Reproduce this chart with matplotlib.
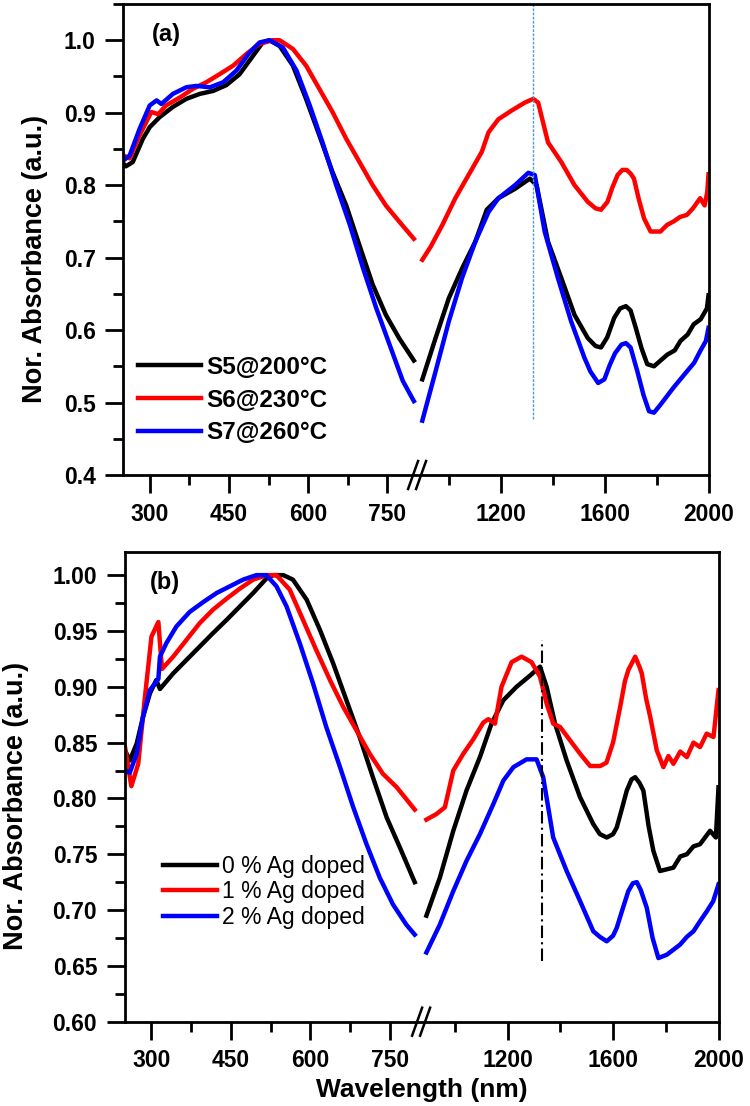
import matplotlib
matplotlib.use('Agg')
import matplotlib.pyplot as plt
import numpy as np

plt.rcParams['font.family'] = ['Liberation Sans', 'DejaVu Sans']

# ---- 데이터 ----
# (a) 열처리 온도별 시료
s5_uv_wl = [250, 255, 268, 287, 300, 319, 344, 369, 395, 420, 445, 470, 495, 514, 527,
            546, 571, 596, 621, 646, 672, 697, 722, 747, 772, 800]
s5_uv_abs = [0.830, 0.826, 0.832, 0.864, 0.880, 0.894, 0.908, 0.919, 0.926, 0.930, 0.938,
             0.953, 0.978, 0.997, 1.000, 0.992, 0.965, 0.919, 0.869, 0.818, 0.772, 0.717,
             0.663, 0.621, 0.589, 0.558]
s6_uv_wl = [250, 262, 281, 303, 316, 331, 357, 382, 407, 432, 458, 483, 508, 533, 546,
            571, 596, 621, 646, 672, 697, 722, 747, 772, 800]
s6_uv_abs = [0.841, 0.837, 0.869, 0.901, 0.898, 0.910, 0.921, 0.933, 0.942, 0.953, 0.965,
             0.981, 0.995, 1.000, 1.000, 0.988, 0.965, 0.933, 0.901, 0.864, 0.832, 0.800,
             0.772, 0.750, 0.726]
s7_uv_wl = [250, 262, 281, 300, 313, 322, 344, 369, 388, 414, 439, 464, 489, 508, 527,
            552, 578, 603, 628, 653, 679, 704, 729, 754, 779, 800]
s7_uv_abs = [0.834, 0.841, 0.878, 0.910, 0.917, 0.912, 0.926, 0.935, 0.937, 0.935, 0.942,
             0.958, 0.983, 0.997, 1.000, 0.990, 0.958, 0.910, 0.857, 0.800, 0.745, 0.685,
             0.630, 0.580, 0.530, 0.502]

s5_ir_wl = [898, 949, 1000, 1051, 1102, 1146, 1191, 1255, 1312, 1338, 1382, 1433, 1484,
            1535, 1565, 1586, 1610, 1637, 1660, 1682, 1700, 1720, 1742, 1764, 1790, 1841,
            1870, 1892, 1920, 1943, 1970, 1994, 2000]
s5_ir_abs = [0.532, 0.589, 0.644, 0.685, 0.722, 0.766, 0.782, 0.795, 0.809, 0.800, 0.722,
             0.672, 0.621, 0.589, 0.578, 0.576, 0.590, 0.617, 0.630, 0.633, 0.627, 0.603,
             0.575, 0.553, 0.550, 0.566, 0.572, 0.585, 0.594, 0.608, 0.615, 0.630, 0.648]
s6_ir_wl = [898, 930, 975, 1025, 1076, 1127, 1153, 1191, 1242, 1293, 1325, 1344, 1382,
            1433, 1484, 1535, 1565, 1586, 1611, 1630, 1650, 1668, 1685, 1700, 1713, 1732,
            1752, 1777, 1815, 1840, 1866, 1890, 1917, 1940, 1968, 1985, 1995, 2000]
s6_ir_abs = [0.697, 0.715, 0.745, 0.782, 0.814, 0.846, 0.873, 0.891, 0.903, 0.914, 0.919,
             0.914, 0.859, 0.832, 0.800, 0.777, 0.768, 0.766, 0.777, 0.797, 0.814, 0.821,
             0.821, 0.816, 0.809, 0.780, 0.754, 0.736, 0.736, 0.745, 0.750, 0.756, 0.759,
             0.768, 0.782, 0.772, 0.790, 0.815]
s7_ir_wl = [898, 949, 1000, 1051, 1102, 1153, 1191, 1255, 1306, 1331, 1369, 1420, 1471,
            1522, 1545, 1575, 1599, 1620, 1640, 1665, 1682, 1700, 1726, 1750, 1771, 1790,
            1815, 1866, 1917, 1945, 1968, 1990, 2000]
s7_ir_abs = [0.475, 0.543, 0.612, 0.672, 0.722, 0.763, 0.782, 0.800, 0.817, 0.814, 0.736,
             0.672, 0.612, 0.562, 0.543, 0.527, 0.532, 0.552, 0.568, 0.580, 0.582, 0.576,
             0.543, 0.510, 0.488, 0.486, 0.497, 0.521, 0.543, 0.555, 0.571, 0.585, 0.603]

# (b) Ag 도핑 농도별
ag0_uv_wl = [250, 259, 272, 284, 297, 309, 316, 341, 366, 391, 416, 442, 467, 492, 517,
             530, 549, 567, 593, 618, 643, 668, 693, 718, 744, 769, 797]
ag0_uv_abs = [0.843, 0.834, 0.849, 0.873, 0.894, 0.906, 0.898, 0.912, 0.924, 0.936, 0.948,
              0.960, 0.972, 0.984, 0.997, 1.000, 1.000, 0.996, 0.978, 0.951, 0.921, 0.888,
              0.855, 0.819, 0.783, 0.756, 0.725]
ag1_uv_wl = [250, 262, 275, 287, 300, 313, 317, 320, 341, 366, 391, 416, 442, 467, 492,
             517, 536, 561, 586, 611, 637, 662, 687, 712, 737, 763, 797]
ag1_uv_abs = [0.846, 0.811, 0.831, 0.888, 0.945, 0.958, 0.933, 0.916, 0.927, 0.942, 0.957,
              0.969, 0.979, 0.988, 0.996, 1.000, 1.000, 0.987, 0.960, 0.933, 0.906, 0.882,
              0.861, 0.840, 0.822, 0.810, 0.790]
ag2_uv_wl = [250, 259, 272, 284, 297, 313, 316, 328, 347, 372, 398, 423, 448, 473, 498,
             517, 536, 555, 580, 605, 630, 656, 681, 706, 731, 756, 781, 797]
ag2_uv_abs = [0.825, 0.823, 0.840, 0.873, 0.897, 0.907, 0.927, 0.939, 0.954, 0.967, 0.976,
              0.984, 0.990, 0.996, 1.000, 1.000, 0.990, 0.972, 0.939, 0.903, 0.864, 0.828,
              0.792, 0.759, 0.729, 0.705, 0.687, 0.678]

ag0_ir_wl = [892, 943, 994, 1044, 1095, 1139, 1184, 1234, 1285, 1323, 1348, 1380, 1424,
             1475, 1525, 1550, 1576, 1600, 1614, 1635, 1652, 1670, 1684, 1700, 1715, 1735,
             1753, 1778, 1829, 1855, 1880, 1905, 1930, 1968, 1990, 2000]
ag0_ir_abs = [0.695, 0.729, 0.771, 0.807, 0.837, 0.867, 0.888, 0.900, 0.910, 0.918, 0.900,
              0.867, 0.834, 0.801, 0.777, 0.768, 0.765, 0.768, 0.774, 0.792, 0.807, 0.817,
              0.819, 0.814, 0.807, 0.775, 0.753, 0.735, 0.738, 0.748, 0.750, 0.757, 0.759,
              0.771, 0.765, 0.810]
ag1_ir_wl = [892, 930, 962, 994, 1032, 1070, 1108, 1127, 1152, 1177, 1215, 1253, 1291,
             1323, 1348, 1373, 1399, 1437, 1475, 1513, 1551, 1575, 1600, 1627, 1645, 1658,
             1684, 1700, 1709, 1725, 1741, 1766, 1791, 1810, 1829, 1855, 1880, 1905, 1930,
             1955, 1981, 2000]
ag1_ir_abs = [0.781, 0.786, 0.792, 0.825, 0.840, 0.853, 0.868, 0.871, 0.867, 0.900, 0.922,
              0.927, 0.922, 0.909, 0.885, 0.867, 0.864, 0.852, 0.840, 0.829, 0.829, 0.832,
              0.850, 0.882, 0.905, 0.915, 0.927, 0.918, 0.912, 0.890, 0.873, 0.843, 0.828,
              0.838, 0.831, 0.842, 0.837, 0.850, 0.846, 0.858, 0.855, 0.897]
ag2_ir_wl = [892, 943, 994, 1044, 1095, 1146, 1184, 1222, 1272, 1310, 1335, 1373, 1424,
             1475, 1525, 1550, 1576, 1600, 1614, 1635, 1658, 1675, 1690, 1705, 1728, 1750,
             1772, 1804, 1854, 1880, 1905, 1930, 1956, 1980, 2000]
ag2_ir_abs = [0.662, 0.687, 0.717, 0.744, 0.768, 0.795, 0.816, 0.828, 0.835, 0.835, 0.819,
              0.765, 0.735, 0.708, 0.681, 0.676, 0.672, 0.677, 0.684, 0.700, 0.717, 0.724,
              0.725, 0.718, 0.702, 0.675, 0.657, 0.660, 0.669, 0.676, 0.681, 0.690, 0.699,
              0.708, 0.723]

# 축 끊김 (x축) 구간
WL_KNOTS = [250, 805, 880, 2000]


def break_scale(pos_knots):
    """끊긴 x축을 위한 구간별 선형 변환"""
    fwd = lambda x: np.interp(x, WL_KNOTS, pos_knots)
    inv = lambda p: np.interp(p, pos_knots, WL_KNOTS)
    return fwd, inv


W, H = 750, 1106
fig = plt.figure(figsize=(W / 100, H / 100), dpi=100)


def add_panel(left, right, top, bottom):
    return fig.add_axes([left / W, 1 - bottom / H, (right - left) / W, (bottom - top) / H])


def style_axes(ax, pos_knots):
    fwd, inv = break_scale(pos_knots)
    ax.set_xscale('function', functions=(fwd, inv))
    ax.set_xlim(250, 2000)
    ax.set_xticks([300, 450, 600, 750, 1200, 1600, 2000])
    ax.set_xticklabels(['300', '450', '600', '750', '1200', '1600', '2000'])
    ax.set_xticks([375, 525, 675, 1000, 1400, 1800], minor=True)
    for sp in ax.spines.values():
        sp.set_linewidth(2)
    ax.tick_params(which='major', direction='out', length=13, width=2, pad=7,
                   labelsize=16.5)
    ax.tick_params(which='minor', direction='out', length=7, width=2)
    for lab in ax.get_xticklabels() + ax.get_yticklabels():
        lab.set_fontweight('bold')
    # 축 끊김 표시 (//)
    xc = fwd(842.5)
    w = ax.bbox.width
    h = ax.bbox.height
    for dx in (-4, 4):
        ax.plot([xc + (dx - 5) / w, xc + (dx + 5) / w], [-14 / h, 14 / h],
                transform=ax.transAxes, color='black', lw=1.8, clip_on=False)


# ---- (a) ----
ax1 = add_panel(123.3, 708.5, 4, 475)
style_axes(ax1, [0, 0.501, 0.503, 1])
ax1.set_ylim(0.4, 1.05)
ax1.set_yticks(np.arange(0.4, 1.01, 0.1))
ax1.set_yticklabels([f'{v:.1f}' for v in np.arange(0.4, 1.01, 0.1)], fontweight='bold')
ax1.set_yticks(np.arange(0.45, 1.05, 0.1), minor=True)

lw = 3.2
ax1.plot(s5_uv_wl, s5_uv_abs, color='black', lw=lw, label='S5@200°C')
ax1.plot(s6_uv_wl, s6_uv_abs, color='red', lw=lw, label='S6@230°C')
ax1.plot(s7_uv_wl, s7_uv_abs, color='blue', lw=lw, label='S7@260°C')
ax1.plot(s5_ir_wl, s5_ir_abs, color='black', lw=lw)
ax1.plot(s6_ir_wl, s6_ir_abs, color='red', lw=lw)
ax1.plot(s7_ir_wl, s7_ir_abs, color='blue', lw=lw)
ax1.vlines(1325, 0.477, 1.05, colors='#4a9fe0', linestyles=(0, (2, 1)), lw=1)

ax1.set_ylabel('Nor. Absorbance (a.u.)', fontsize=19.5, fontweight='bold', va='center')
ax1.yaxis.set_label_coords(-0.151, 0.459)
ax1.text(0.073, 0.936, '(a)', transform=ax1.transAxes, fontsize=17, fontweight='bold',
         ha='center', va='center')
ax1.legend(loc='center left', bbox_to_anchor=(0.025, 0.159), frameon=False,
           prop={'size': 17.5, 'weight': 'bold'}, handlelength=2.6, handletextpad=0.2,
           labelspacing=0.4, borderpad=0, borderaxespad=0)

# ---- (b) ----
ax2 = add_panel(125, 718.5, 551.7, 1021.7)
style_axes(ax2, [0, 0.4953, 0.5025, 1])
ax2.set_ylim(0.6, 1.021)
ax2.set_yticks(np.arange(0.60, 1.001, 0.05))
ax2.set_yticklabels([f'{v:.2f}' for v in np.arange(0.60, 1.001, 0.05)], fontweight='bold')
ax2.set_yticks(np.arange(0.625, 1.0, 0.05), minor=True)

ax2.plot(ag0_uv_wl, ag0_uv_abs, color='black', lw=lw, label='0 % Ag doped')
ax2.plot(ag1_uv_wl, ag1_uv_abs, color='red', lw=lw, label='1 % Ag doped')
ax2.plot(ag2_uv_wl, ag2_uv_abs, color='blue', lw=lw, label='2 % Ag doped')
ax2.plot(ag0_ir_wl, ag0_ir_abs, color='black', lw=lw)
ax2.plot(ag1_ir_wl, ag1_ir_abs, color='red', lw=lw)
ax2.plot(ag2_ir_wl, ag2_ir_abs, color='blue', lw=lw)
ax2.vlines(1330, 0.654, 0.942, colors='black', linestyles=(0, (6, 2, 1, 2)), lw=1.5)

ax2.set_ylabel('Nor. Absorbance (a.u.)', fontsize=19.5, fontweight='bold', va='center')
ax2.yaxis.set_label_coords(-0.184, 0.459)
ax2.text(0.0666, 0.934, '(b)', transform=ax2.transAxes, fontsize=17, fontweight='bold',
         ha='center', va='center')
ax2.legend(loc='center left', bbox_to_anchor=(0.064, 0.276), frameon=False,
           prop={'size': 16.5}, handlelength=2.35, handletextpad=0.22,
           labelspacing=0.1, borderpad=0, borderaxespad=0)

fig.text(422 / W, 1 - 1090 / H, 'Wavelength (nm)', fontsize=19, fontweight='bold',
         ha='center', va='center')

fig.savefig('out.png', dpi=100)
plt.close(fig)
